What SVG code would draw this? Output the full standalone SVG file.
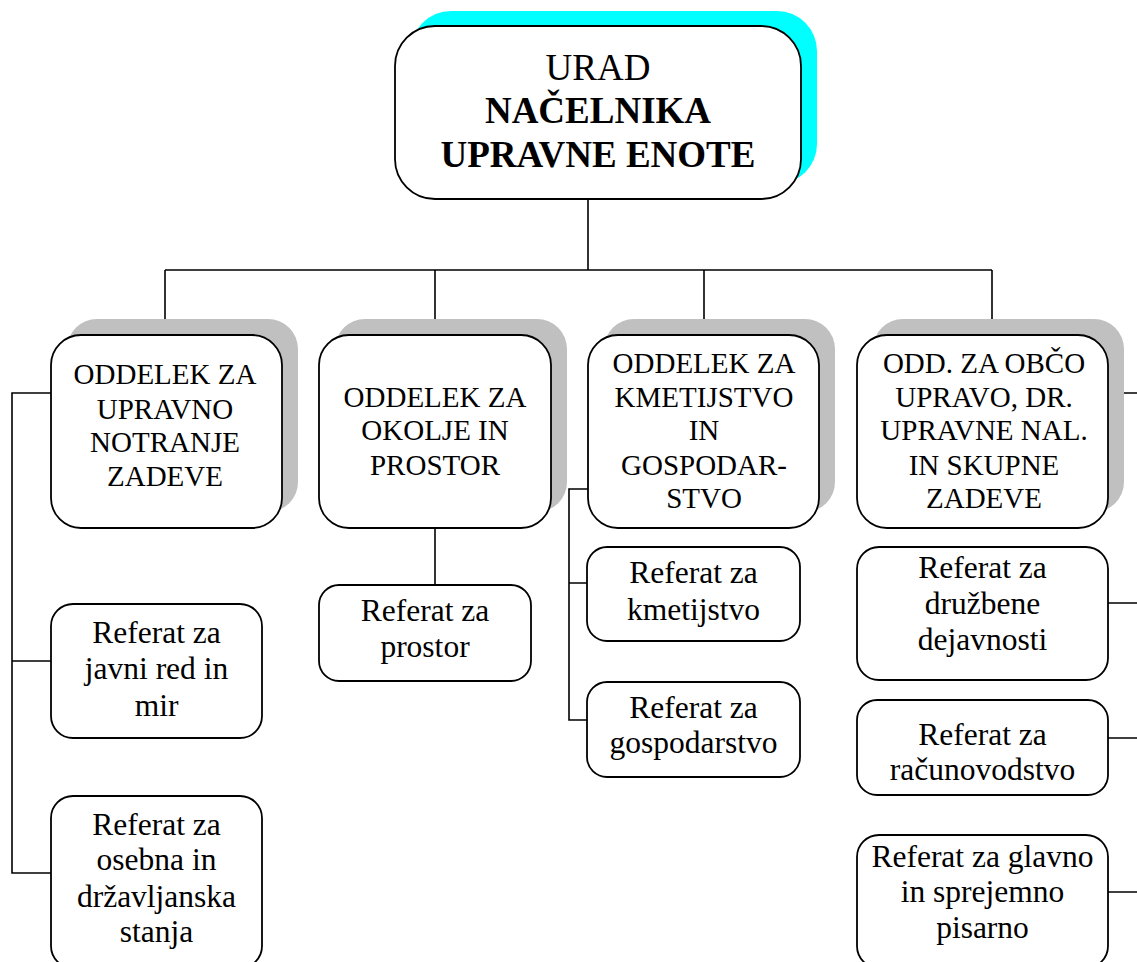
<svg xmlns="http://www.w3.org/2000/svg" width="1137" height="962" viewBox="0 0 1137 962" font-family="'Liberation Serif', 'Times New Roman', Tinos, 'DejaVu Serif', serif">
<style>
.box{fill:#fff;stroke:#000;stroke-width:1.8}
.shadow{fill:#c0c0c0;stroke:none}
.ln{stroke:#000;stroke-width:1.6;fill:none}
text{font-family:'Liberation Serif','Times New Roman',Tinos,'DejaVu Serif',serif;fill:#000;text-anchor:middle}
.dep{font-size:29px}
.ref{font-size:31.5px}
.top{font-size:37px}
.b{font-weight:bold}
</style>
<rect width="1137" height="962" fill="#fff"/>
<g id="connectors">
<path class="ln" d="M588,199 V270 M165,270 H992 M165,270 V328 M435,270 V328 M704,270 V328 M992,270 V328"/>
<path class="ln" d="M51,393 H12 V873 H51 M12,661 H51"/>
<path class="ln" d="M435,528 V585"/>
<path class="ln" d="M588,489 H569 V720 H588 M569,583 H588"/>
<path class="ln" d="M1108,393 H1137 M1108,603 H1137 M1108,738 H1137 M1108,892 H1137"/>
</g>
<g id="n-top">
<rect x="411" y="11" width="406" height="173" rx="40" fill="#00ffff"/>
<rect class="box" x="395" y="26" width="406" height="173" rx="40" stroke-width="2.4"/>
<text class="top" x="598" y="80">URAD</text>
<text class="top b" x="598" y="123">NAČELNIKA</text>
<text class="top b" x="598" y="167">UPRAVNE ENOTE</text>
</g>
<g id="n-dep1">
<rect class="shadow" x="67" y="319" width="231" height="193" rx="30"/>
<rect class="box" x="51" y="335" width="231" height="193" rx="30"/>
<text class="dep" x="165" y="384">ODDELEK ZA</text>
<text class="dep" x="165" y="419">UPRAVNO</text>
<text class="dep" x="165" y="452">NOTRANJE</text>
<text class="dep" x="165" y="486">ZADEVE</text>
</g>
<g id="n-dep2">
<rect class="shadow" x="335" y="319" width="232" height="193" rx="30"/>
<rect class="box" x="319" y="335" width="232" height="193" rx="30"/>
<text class="dep" x="435" y="407">ODDELEK ZA</text>
<text class="dep" x="435" y="440">OKOLJE IN</text>
<text class="dep" x="435" y="475">PROSTOR</text>
</g>
<g id="n-dep3">
<rect class="shadow" x="604" y="319" width="231" height="193" rx="30"/>
<rect class="box" x="588" y="335" width="231" height="193" rx="30"/>
<text class="dep" x="704" y="373">ODDELEK ZA</text>
<text class="dep" x="704" y="407">KMETIJSTVO</text>
<text class="dep" x="704" y="440">IN</text>
<text class="dep" x="704" y="475">GOSPODAR-</text>
<text class="dep" x="704" y="508">STVO</text>
</g>
<g id="n-dep4">
<rect class="shadow" x="873" y="319" width="251" height="193" rx="30"/>
<rect class="box" x="857" y="335" width="251" height="193" rx="30"/>
<text class="dep" x="984" y="373">ODD. ZA OBČO</text>
<text class="dep" x="984" y="407">UPRAVO, DR.</text>
<text class="dep" x="984" y="440">UPRAVNE NAL.</text>
<text class="dep" x="984" y="475">IN SKUPNE</text>
<text class="dep" x="984" y="508">ZADEVE</text>
</g>
<g id="n-javni">
<rect class="box" x="51" y="604" width="211" height="134" rx="22"/>
<text class="ref" x="156.5" y="643">Referat za</text>
<text class="ref" x="156.5" y="679">javni red in</text>
<text class="ref" x="156.5" y="716">mir</text>
</g>
<g id="n-osebna">
<rect class="box" x="51" y="796" width="211" height="172" rx="22"/>
<text class="ref" x="156.5" y="835">Referat za</text>
<text class="ref" x="156.5" y="870">osebna in</text>
<text class="ref" x="156.5" y="907">državljanska</text>
<text class="ref" x="156.5" y="942">stanja</text>
</g>
<g id="n-prostor">
<rect class="box" x="319" y="585" width="212" height="96" rx="20"/>
<text class="ref" x="425" y="621">Referat za</text>
<text class="ref" x="425" y="657">prostor</text>
</g>
<g id="n-kmet">
<rect class="box" x="587" y="547" width="213" height="94" rx="20"/>
<text class="ref" x="693.5" y="583">Referat za</text>
<text class="ref" x="693.5" y="620">kmetijstvo</text>
</g>
<g id="n-gosp">
<rect class="box" x="587" y="682" width="213" height="95" rx="20"/>
<text class="ref" x="693.5" y="718">Referat za</text>
<text class="ref" x="693.5" y="753">gospodarstvo</text>
</g>
<g id="n-druzb">
<rect class="box" x="857" y="547" width="251" height="133" rx="22"/>
<text class="ref" x="982.5" y="578">Referat za</text>
<text class="ref" x="982.5" y="614">družbene</text>
<text class="ref" x="982.5" y="650">dejavnosti</text>
</g>
<g id="n-racun">
<rect class="box" x="857" y="700" width="251" height="95" rx="20"/>
<text class="ref" x="982.5" y="745">Referat za</text>
<text class="ref" x="982.5" y="780">računovodstvo</text>
</g>
<g id="n-glavno">
<rect class="box" x="857" y="835" width="251" height="133" rx="22"/>
<text class="ref" x="982.5" y="867">Referat za glavno</text>
<text class="ref" x="982.5" y="902">in sprejemno</text>
<text class="ref" x="982.5" y="938">pisarno</text>
</g>
</svg>
